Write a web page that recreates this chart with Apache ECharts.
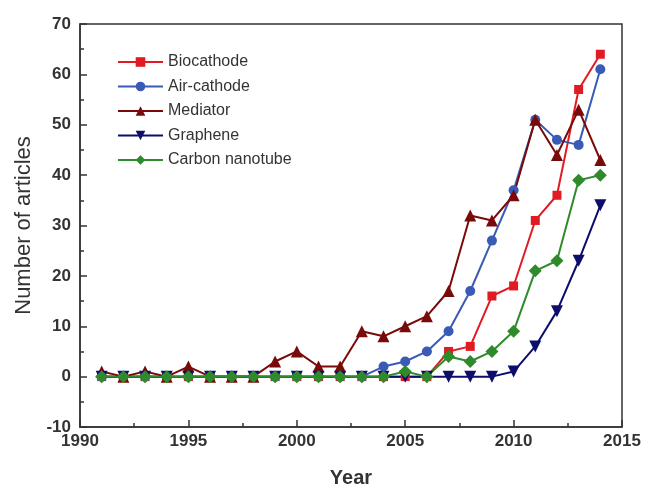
<!DOCTYPE html>
<html>
<head>
<meta charset="utf-8">
<script src="https://cdn.jsdelivr.net/npm/echarts@6/dist/echarts.min.js"></script>
<style>
html,body{margin:0;padding:0;background:#fff;}
#chart{width:648px;height:489px;}
</style>
</head>
<body>
<div id="chart"></div>
<script>
var years = [1991,1992,1993,1994,1995,1996,1997,1998,1999,2000,2001,2002,2003,2004,2005,2006,2007,2008,2009,2010,2011,2012,2013,2014];
var biocathode = [0,0,0,0,0,0,0,0,0,0,0,0,0,0,0,0,5,6,16,18,31,36,57,64];
var airCathode = [0,0,0,0,0,0,0,0,0,0,0,0,0,2,3,5,9,17,27,37,51,47,46,61];
var mediator = [1,0,1,0,2,0,0,0,3,5,2,2,9,8,10,12,17,32,31,36,51,44,53,43];
var graphene = [0,0,0,0,0,0,0,0,0,0,0,0,0,0,0,0,0,0,0,1,6,13,23,34];
var nanotube = [0,0,0,0,0,0,0,0,0,0,0,0,0,0,1,0,4,3,5,9,21,23,39,40];

function pairs(vals){
    return years.map(function(y,i){ return [y, vals[i]]; });
}

var chart = echarts.init(document.getElementById('chart'));
var axisColor = '#333';
var font = 'Liberation Sans, Arial, sans-serif';
var labelFont = {color:'#333', fontSize:17, fontWeight:'bold', fontFamily:font};

function line(name, vals, color, symbol, size, rotate){
    return {
        name:name,
        type:'line',
        data:pairs(vals),
        symbol:symbol,
        symbolSize:size,
        symbolRotate:rotate || 0,
        lineStyle:{color:color, width:2},
        itemStyle:{color:color},
        z:2
    };
}

var option = {
    backgroundColor:'#fff',
    animation:false,
    grid:{
        left:80, right:26, top:24, bottom:62,
        outerBoundsMode:'none',
        show:true, borderColor:axisColor, borderWidth:1.5, backgroundColor:'transparent'
    },
    legend:{
        orient:'vertical',
        left:112, top:49,
        itemWidth:45, itemHeight:12, itemGap:8.5,
        textStyle:{color:'#333', fontSize:16, fontFamily:font},
        data:['Biocathode','Air-cathode','Mediator','Graphene','Carbon nanotube']
    },
    xAxis:{
        type:'value',
        min:1990, max:2015, interval:5,
        name:'Year', nameLocation:'middle', nameGap:41,
        nameTextStyle:{color:'#333', fontSize:20, fontWeight:'bold', fontFamily:font},
        axisLine:{show:true, onZero:false, lineStyle:{color:axisColor, width:1.5}},
        axisTick:{show:true, inside:true, length:7, lineStyle:{color:axisColor, width:1.5}},
        minorTick:{show:true, splitNumber:2, length:4, lineStyle:{color:axisColor, width:1.5}},
        axisLabel:Object.assign({margin:6, formatter:function(v){return String(v);}}, labelFont),
        splitLine:{show:false}
    },
    yAxis:{
        type:'value',
        min:-10, max:70, interval:10,
        name:'Number of articles', nameLocation:'middle', nameGap:45,
        nameTextStyle:{color:'#333', fontSize:22, fontFamily:font},
        axisLine:{show:true, onZero:false, lineStyle:{color:axisColor, width:1.5}},
        axisTick:{show:true, inside:true, length:7, lineStyle:{color:axisColor, width:1.5}},
        minorTick:{show:true, splitNumber:2, length:4, lineStyle:{color:axisColor, width:1.5}},
        axisLabel:Object.assign({margin:9}, labelFont),
        splitLine:{show:false}
    },
    series:[
        line('Biocathode', biocathode, '#e01b24', 'rect', 9),
        line('Air-cathode', airCathode, '#3a5bb5', 'circle', 10),
        line('Mediator', mediator, '#7a0a0a', 'triangle', 12),
        line('Graphene', graphene, '#0d0d6b', 'triangle', 12, 180),
        line('Carbon nanotube', nanotube, '#2e8a2a', 'diamond', 13)
    ]
};
chart.setOption(option);
</script>
</body>
</html>
